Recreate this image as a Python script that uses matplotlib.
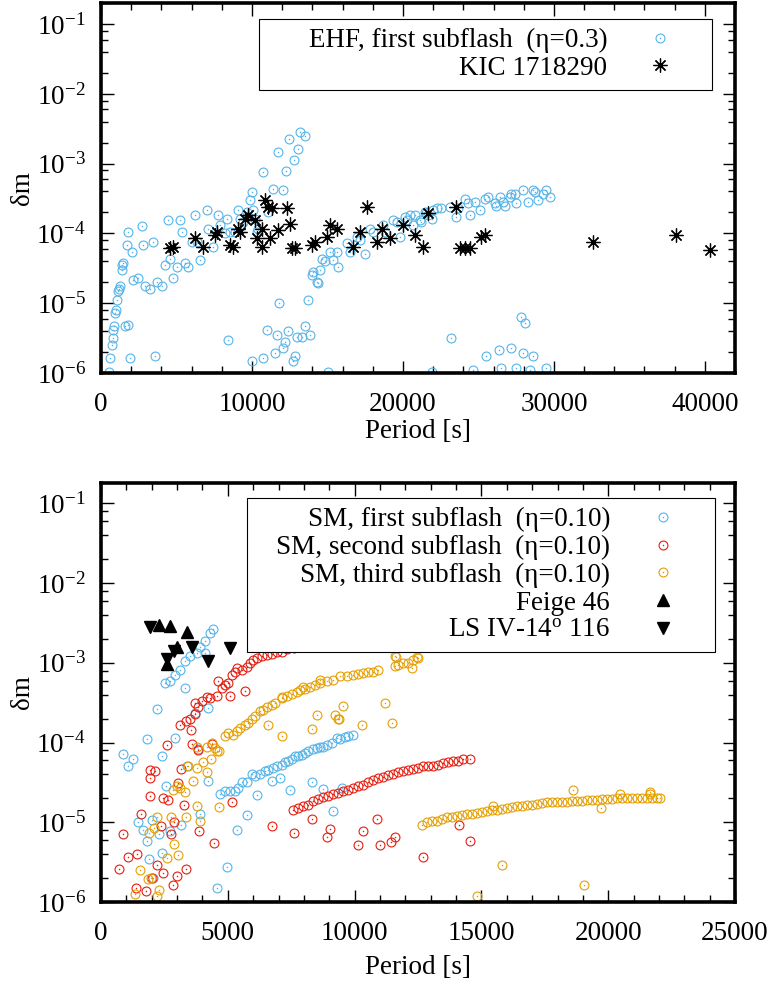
import matplotlib
matplotlib.use('Agg')
from matplotlib import pyplot as plt
from matplotlib.patches import Rectangle
from matplotlib.transforms import IdentityTransform
from matplotlib.ticker import MultipleLocator, LogLocator, FuncFormatter, NullFormatter
import numpy as np

BLUE = '#56b4e9'
RED = '#e51e10'
ORANGE = '#e69f00'

# ---- top panel: EHF model, first subflash (eta=0.3) vs KIC 1718290
# periods in s, log10(delta m)
ehf_period = [552, 596, 706, 773, 817, 861, 927, 971, 1038, 1148, 1214, 1258, 1369, 1413, 1479,
              1589, 1810, 1810, 1700, 1920, 2031, 2141, 2472, 2693, 2759, 2913, 3245, 3465, 3576,
              3686, 4017, 4238, 4458, 4569, 4789, 5010, 5231, 5341, 5562, 5783, 6003, 6224, 6334,
              6555, 6996, 7107, 7438, 7769, 7879, 8210, 8321, 8431, 8541, 8872, 9093, 9203, 9424,
              9645, 9866, 9976, 9976, 10086, 10197, 10307, 10417, 10704, 10748, 10969, 11079,
              11410, 11521, 11631, 11697, 11786, 12028, 12073, 12183, 12249, 12404, 12470, 12690,
              12779, 12845, 12955, 13066, 13176, 13286, 13507, 13507, 13728, 13838, 13949, 14059,
              14280, 14390, 14500, 14611, 14832, 15052, 15162, 15383, 15604, 15714, 16266, 16487,
              16928, 17149, 17480, 17811, 18031, 18694, 18804, 19356, 19576, 19797, 20128, 20238,
              20456, 20680, 20790, 21121, 21228, 21452, 21560, 21673, 21894, 21894, 22001, 22225,
              22553, 23105, 23215, 23546, 23656, 24098, 24318, 24429, 24649, 24760, 25091, 25422,
              25488, 25643, 26084, 26194, 26371, 26415, 26525, 26636, 26746, 27077, 27187, 27187,
              27408, 27519, 27519, 27850, 27960, 27960, 28071, 28291, 28401, 28622, 28622, 28732,
              28953, 29284, 29505, 29505, 29726]
ehf_logdm = [-5.98, -5.79, -5.60, -5.50, -5.38, -5.33, -5.14, -5.10, -4.95, -4.83, -4.79, -4.76, -4.52, -4.45, -4.43,
             -5.33, -5.31, -3.98, -4.17, -5.79, -4.26, -4.67, -4.64, -3.90, -4.17, -4.76, -4.79, -4.12, -5.76,
             -4.69, -4.76, -4.45, -3.81, -4.36, -4.64, -4.48, -3.81, -3.98, -4.43, -4.48, -4.12, -3.74, -4.12,
             -4.38, -3.67, -3.93, -4.19, -3.74, -3.88, -4.00, -3.79, -5.52, -3.98, -3.98, -3.67, -3.79, -3.83,
             -3.69, -3.52, -3.40, -5.83, -3.67, -3.79, -3.98, -3.93, -5.79, -3.12, -5.38, -3.69,
             -3.36, -5.71, -5.45, -2.83, -5.00, -3.38, -5.64, -5.55, -3.10, -5.40, -2.64, -5.83,
             -2.95, -5.76, -5.48, -2.79, -2.55, -5.48, -2.60, -5.33, -4.95, -5.45, -4.60, -4.55,
             -4.69, -4.71, -4.52, -4.36, -4.40, -5.98, -4.26, -4.38, -4.26, -4.48, -4.14, -4.26,
             -4.05, -4.10, -4.29, -3.93, -3.98, -3.88, -3.98, -3.81, -3.83, -4.05, -3.76, -3.81,
             -3.74, -3.88, -3.74, -3.81, -3.83, -3.69, -3.71, -3.74, -3.79, -5.98, -3.67, -3.64,
             -3.64, -3.62, -5.50, -3.76, -3.64, -3.50, -3.57, -3.74, -5.95, -3.55, -3.67, -3.50,
             -5.76, -3.48, -3.57, -3.60, -5.67, -3.48, -5.93, -3.55, -3.60, -3.48, -3.43, -5.64,
             -3.43, -3.57, -5.93, -5.19, -3.38, -5.71, -5.29, -3.55, -5.95, -3.38, -5.76, -3.40,
             -3.52, -3.43, -3.38, -5.93, -3.48]

kic_period = [4569, 4789, 6224, 6776, 7548, 7659, 8541, 8762, 9093, 9203, 9534, 9755, 10197, 10307,
              10638, 10638, 10859, 11079, 11300, 11189, 11741, 12293, 12514, 12624, 12845, 13949,
              14169, 14942, 15162, 15604, 16708, 17149, 17590, 18252, 18583, 19135, 20018, 20790,
              21342, 21673, 23546, 23767, 24098, 24429, 25201, 25422, 32595, 38112, 40319]
kic_logdm = [-4.21, -4.19, -4.07, -4.19, -4.02, -3.98, -4.17, -4.19, -3.93, -3.98, -3.79, -3.74, -3.81, -4.07,
             -4.19, -3.93, -3.52, -3.62, -3.64, -4.07, -3.95, -3.64, -3.86, -4.21, -4.21, -4.17,
             -4.12, -4.05, -3.88, -3.93, -4.19, -3.98, -3.62, -4.12, -3.93, -4.07, -3.88, -4.02,
             -4.19, -3.71, -3.62, -4.21, -4.21, -4.21, -4.05, -4.02, -4.12, -4.02, -4.24]

# ---- bottom panel: SM model subflashes (eta=0.10) vs Feige 46 / LS IV-14 116
sm1_period = [881, 1078, 1275, 1446, 1643, 1801, 1801, 1906, 1998, 2037, 2195, 2300, 2392, 2392,
              2523, 2550, 2720, 2720, 2917, 2917, 3115, 3154, 3312, 3312, 3404, 3509, 3706, 3772,
              3811, 3903, 3903, 4100, 4100, 4232, 4232, 4297, 4429, 4560, 4954, 5348, 5743, 6137,
              6728, 7057, 7451, 8305, 8765, 9159, 9489,
              4691, 4889, 5086, 5283, 5414, 5546, 5743, 5940, 6071, 6268, 6465, 6597, 6794, 6925,
              7122, 7254, 7385, 7517, 7648, 7779, 7911, 8042, 8174, 8371, 8502, 8634, 8765, 8896,
              9094, 9291, 9422, 9619, 9750, 9948]
sm1_logdm = [-4.14, -4.30, -4.20, -5.00, -5.10, -3.95, -5.23, -5.46, -4.97, -5.70, -3.58, -5.15, -4.17, -5.39,
             -3.25, -4.54, -3.23, -5.11, -3.15, -3.94, -3.09, -5.03, -2.98, -3.32, -4.30, -2.92, -3.63, -2.88,
             -4.08, -2.80, -4.90, -2.73, -2.88, -3.57, -4.48, -2.63, -2.57, -5.82, -5.56, -5.10, -4.91, -4.66,
             -4.48, -4.44, -4.60, -4.50, -4.58, -4.86, -4.57,
             -4.65, -4.61, -4.61, -4.61, -4.57, -4.50, -4.50, -4.40, -4.42, -4.40, -4.36, -4.34, -4.32, -4.29,
             -4.28, -4.25, -4.23, -4.20, -4.17, -4.17, -4.15, -4.13, -4.10, -4.08, -4.07, -4.05, -4.05, -4.03,
             -4.00, -3.94, -3.96, -3.93, -3.92, -3.91]

sm2_period = [3115, 3351, 3509, 3706, 3706, 3837, 3969, 4166, 4297, 4560, 4626, 4757, 4889, 5020,
              5086, 5151, 5283, 5348, 5546, 5677, 5743, 5874, 6005, 6137, 6334, 6531, 6728, 6925,
              7122, 7319, 7600, 7900, 8200, 8500, 8800, 9100, 9400,
              710, 881, 1052, 1380, 1407, 1577, 1774, 1932, 1932, 1932, 1998, 2129, 2195, 2352,
              2431, 2458, 2615, 2628, 2747, 2826, 2878, 3010, 3023, 3141, 3285, 3351, 3548, 3575,
              3811, 3863, 4363, 4455, 5164, 6755, 7610, 8306, 8898, 9029, 10146, 10317, 10869,
              11000, 11421, 11592, 12708, 14128, 14548,
              7584, 7781, 7978, 8175, 8372, 8570, 8767, 8964, 9161, 9358, 9555, 9752, 9949, 10146,
              10343, 10540, 10737, 10935, 11132, 11329, 11526, 11723, 11920, 12117, 12314, 12511,
              12708, 12906, 13103, 13300, 13497, 13694, 13891, 14088, 14285, 14548]
sm2_logdm = [-3.78, -3.73, -3.71, -3.64, -3.50, -3.55, -3.48, -3.43, -3.44, -3.42, -3.23, -3.32, -3.28, -3.25,
             -3.42, -3.15, -3.11, -3.07, -3.09, -3.35, -3.05, -3.00, -2.96, -2.94, -2.92, -2.90, -2.89, -2.87,
             -2.86, -2.83, -2.81, -2.79, -2.77, -2.76, -2.74, -2.73, -2.71,
             -5.58, -5.15, -5.43, -5.82, -5.40, -4.90, -5.86, -4.34, -4.45, -4.67, -5.70, -4.36, -5.53, -5.05,
             -4.70, -5.64, -4.03, -4.72, -5.15, -5.79, -5.00, -5.68, -4.51, -4.33, -4.78, -5.58, -3.84, -4.02,
             -4.09, -5.11, -4.02, -5.26, -4.75, -5.05, -5.14, -4.96, -5.18, -5.08, -5.28, -5.11, -4.96,
             -5.29, -5.25, -5.18, -5.43, -5.03, -5.24,
             -4.85, -4.82, -4.80, -4.78, -4.73, -4.71, -4.68, -4.67, -4.65, -4.63, -4.61, -4.59, -4.57, -4.55,
             -4.53, -4.50, -4.47, -4.45, -4.43, -4.41, -4.39, -4.37, -4.36, -4.35, -4.33, -4.32,
             -4.30, -4.30, -4.29, -4.28, -4.26, -4.25, -4.23, -4.23, -4.21, -4.20]

sm3_period = [3772, 4166, 4363, 4494, 4560, 4665, 4889, 5020, 5217, 5348, 5480, 5677, 5808, 5940,
              6071, 6268, 6399, 6531, 6728, 6860, 7122, 7319, 7517, 7714, 7845, 8042, 8240, 8437,
              8634, 8896, 9159, 9422, 9685, 9948, 10145, 10342, 10539, 10736, 10933, 11590, 11721,
              11918, 12116, 12313, 12510, 12247, 11590,
              7122, 6597, 8502, 8305, 9356, 9553, 10276, 11196, 11459, 9226, 9397, 7124, 7978, 8635,
              11631, 12446,
              4008, 4337, 3443, 3798, 4166, 3614, 3010, 3115, 2826, 3312, 3772, 3351, 2747, 3903,
              4652, 2221, 2090, 1906, 2891, 2615, 3049, 1538, 1866, 1958, 2300, 1341, 2195,
              12644, 12841, 13038, 13235, 13433, 13630, 13827, 14024, 14221, 14418, 14615, 14812,
              15009, 15206, 15404, 15601, 15798, 15995, 16192, 16389, 16586, 16783, 16980, 17177,
              17375, 17572, 17769, 17966, 18163, 18360, 18557, 18754, 18951, 19148, 19346, 19543,
              19740, 19937, 20134, 20331, 20528, 20725, 20922, 21119, 21317, 21514, 21711, 21908,
              22039,
              15470, 18623, 19701, 20463, 21645, 21645, 15811, 19044, 14811]
sm3_logdm = [-4.05, -4.05, -4.00, -4.07, -4.11, -4.11, -3.92, -3.88, -3.90, -3.86, -3.82, -3.78, -3.75, -3.71,
             -3.67, -3.61, -3.59, -3.55, -3.53, -3.50, -3.44, -3.42, -3.39, -3.36, -3.34, -3.33, -3.30, -3.28,
             -3.25, -3.23, -3.21, -3.17, -3.16, -3.15, -3.14, -3.13, -3.12, -3.11, -3.09, -3.04, -3.03,
             -3.00, -3.00, -2.97, -2.94, -3.07, -2.92,
             -3.92, -3.78, -3.66, -3.83, -3.71, -3.54, -3.78, -3.51, -3.75, -3.66, -3.71, -3.43, -3.30, -3.22,
             -2.93, -2.93,
             -4.24, -4.21, -4.30, -4.32, -4.37, -4.48, -4.55, -4.57, -4.60, -4.62, -4.80, -4.93, -4.93, -4.99,
             -4.81, -4.94, -5.07, -5.13, -5.27, -5.45, -5.41, -5.60, -5.71, -5.70, -5.85, -5.90, -5.93,
             -5.03, -5.00, -4.98, -4.98, -4.96, -4.94, -4.93, -4.92, -4.91, -4.90, -4.89, -4.88,
             -4.87, -4.86, -4.85, -4.84, -4.83, -4.82, -4.81, -4.80, -4.79, -4.78, -4.78, -4.77,
             -4.76, -4.75, -4.75, -4.75, -4.74, -4.74, -4.73, -4.73, -4.73, -4.72, -4.72, -4.72,
             -4.71, -4.71, -4.71, -4.70, -4.70, -4.70, -4.70, -4.70, -4.70, -4.69, -4.69, -4.69,
             -4.69,
             -4.80, -4.60, -4.82, -4.65, -4.62, -4.65, -5.53, -5.79, -5.93]

feige_period = [2300, 2720, 3404, 3010, 2589]
feige_logdm = [-2.53, -2.54, -2.61, -2.80, -3.01]
ls_period = [1932, 3575, 5086, 2878, 2589, 4232]
ls_logdm = [-2.55, -2.80, -2.82, -2.85, -2.95, -2.98]

FS = 19.5

plt.rcParams['font.family'] = ['Liberation Serif', 'DejaVu Serif']
plt.rcParams['mathtext.fontset'] = 'custom'
plt.rcParams['mathtext.rm'] = 'Liberation Serif'
plt.rcParams['mathtext.it'] = 'Liberation Serif:italic'
plt.rcParams['font.size'] = FS


def plot_circles(ax, period, logdm, color):
    dm = 10.0 ** np.asarray(logdm)
    ring, = ax.plot(period, dm, ls='none', marker='o', ms=6.4, mfc='none', mec=color, mew=0.8)
    dot, = ax.plot(period, dm, ls='none', marker='o', ms=1.1, mfc=color, mec='none')
    return (ring, dot)


def style_axes(ax, xmax, xmajor, xminor, ytop, xlabelpad):
    ax.set_yscale('log')
    ax.set_xlim(0, xmax)
    ax.set_ylim(1e-6, ytop)
    ax.xaxis.set_major_locator(MultipleLocator(xmajor))
    ax.xaxis.set_minor_locator(MultipleLocator(xminor))
    ax.yaxis.set_major_locator(LogLocator(base=10, numticks=12))
    ax.yaxis.set_minor_locator(LogLocator(base=10, subs=(2, 4, 6, 8), numticks=12))
    ax.yaxis.set_major_formatter(FuncFormatter(lambda v, p: r'$10^{%d}$' % round(np.log10(v))))
    ax.yaxis.set_minor_formatter(NullFormatter())
    ax.tick_params(which='both', direction='in', top=True, right=True, width=1.0, labelsize=FS)
    ax.tick_params(which='major', length=9)
    ax.tick_params(which='minor', length=5)
    ax.tick_params(axis='y', pad=11)
    ax.tick_params(axis='x', pad=14)
    for s in ax.spines.values():
        s.set_linewidth(2.6)
    ax.set_xlabel('Period [s]', labelpad=xlabelpad)
    ax.set_ylabel('δm', labelpad=1)


def boxed_legend(fig, ax, handles, labels, anchor, frame_left):
    # right-aligned gnuplot-like key; frame drawn separately to get the wide left margin
    leg = ax.legend(handles, labels, loc='upper right', bbox_to_anchor=anchor, frameon=False,
                    markerfirst=False, handlelength=3.17, handletextpad=0.37, borderpad=0.33,
                    labelspacing=0.1, borderaxespad=0, numpoints=1, fontsize=FS)
    leg.set_zorder(5)
    fig.canvas.draw()
    bb = leg.get_window_extent()
    x0 = min(ax.transAxes.transform((frame_left, 0))[0], bb.x0)
    frame = Rectangle((x0, bb.y0), bb.x1 - x0, bb.height,
                      transform=IdentityTransform(), facecolor='white', edgecolor='black',
                      lw=0.8, zorder=4.5, clip_on=False)
    ax.add_artist(frame)
    return leg


fig = plt.figure(figsize=(7.76, 9.83), dpi=100)
ax1 = fig.add_axes([0.1302, 0.6205, 0.8170, 0.3764])
ax2 = fig.add_axes([0.1302, 0.0824, 0.8170, 0.4262])

# top panel
h_ehf = plot_circles(ax1, ehf_period, ehf_logdm, BLUE)
h_kic, = ax1.plot(kic_period, 10.0 ** np.asarray(kic_logdm), ls='none', marker=(8, 2, 0),
                  ms=10, mec='black', mew=0.9)
style_axes(ax1, 42000, 10000, 2000, 0.2, 1)

# bottom panel
h_sm1 = plot_circles(ax2, sm1_period, sm1_logdm, BLUE)
h_sm2 = plot_circles(ax2, sm2_period, sm2_logdm, RED)
h_sm3 = plot_circles(ax2, sm3_period, sm3_logdm, ORANGE)
h_feige, = ax2.plot(feige_period, 10.0 ** np.asarray(feige_logdm), ls='none', marker='^',
                    ms=9, color='black')
h_ls, = ax2.plot(ls_period, 10.0 ** np.asarray(ls_logdm), ls='none', marker='v',
                 ms=9, color='black')
style_axes(ax2, 25000, 5000, 1000, 0.18, 6)

boxed_legend(fig, ax1, [h_ehf, h_kic],
             ['EHF, first subflash  (η=0.3)', 'KIC 1718290'],
             (0.9637, 0.9568), 0.249)
boxed_legend(fig, ax2, [h_sm1, h_sm2, h_sm3, h_feige, h_ls],
             ['SM, first subflash  (η=0.10)', 'SM, second subflash  (η=0.10)',
              'SM, third subflash  (η=0.10)', 'Feige 46', r'LS IV-14$^{\rm o}$ 116'],
             (0.9685, 0.9640), 0.230)

fig.savefig('out.png', dpi=100)
